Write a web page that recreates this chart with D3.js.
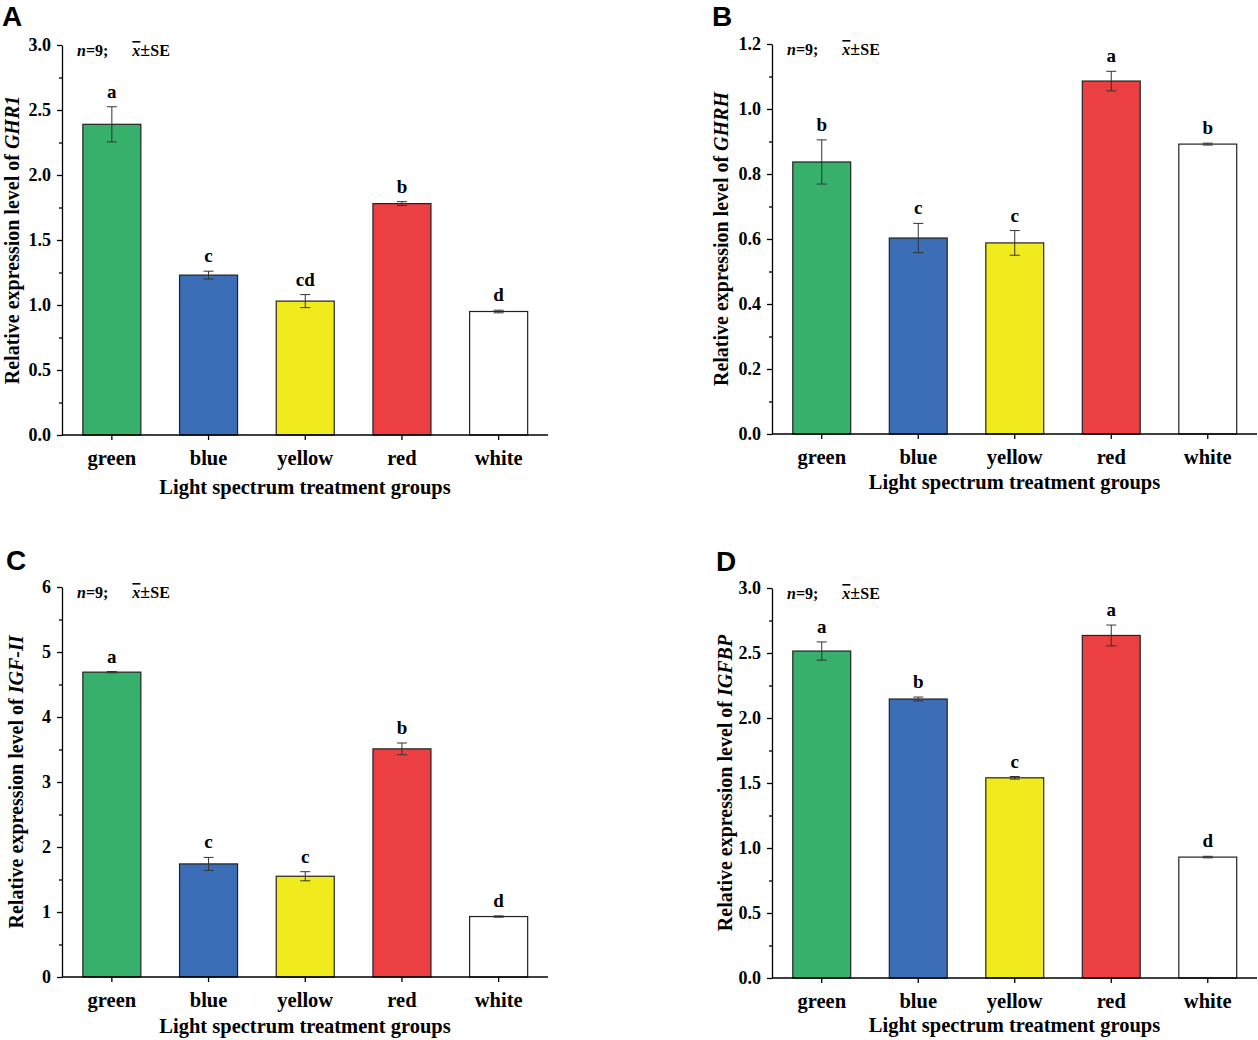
<!DOCTYPE html>
<html lang="en">
<head>
<meta charset="utf-8">
<title>Relative expression by light spectrum</title>
<script src="https://cdnjs.cloudflare.com/ajax/libs/d3/7.8.5/d3.min.js"></script>
<style>
  body { margin: 0; background: #fff; }
  svg text { font-family: "Liberation Serif", "Times New Roman", serif; font-weight: bold; fill: #000; }
  .panel-letter { font-family: "Liberation Sans", Arial, sans-serif !important; }
</style>
</head>
<body>
<div id="chart"></div>
<script>
// categories shared by every panel
var categories = ["green", "blue", "yellow", "red", "white"];
var barColors = ["#37b06b", "#3b6eb6", "#f1ea1c", "#eb3f42", "#ffffff"];

// A: GHR1
var ghr1Mean = [2.39, 1.23, 1.03, 1.78, 0.95];
var ghr1SE = [0.135, 0.03, 0.05, 0.015, 0.01];
var ghr1Letters = ["a", "c", "cd", "b", "d"];
var ghr1Ticks = [0, 0.5, 1.0, 1.5, 2.0, 2.5, 3.0];

// B: GHRH
var ghrhMean = [0.837, 0.603, 0.588, 1.086, 0.892];
var ghrhSE = [0.068, 0.045, 0.038, 0.03, 0.003];
var ghrhLetters = ["b", "c", "c", "a", "b"];
var ghrhTicks = [0, 0.2, 0.4, 0.6, 0.8, 1.0, 1.2];

// C: IGF-II
var igf2Mean = [4.69, 1.74, 1.55, 3.51, 0.93];
var igf2SE = [0.01, 0.1, 0.07, 0.09, 0.01];
var igf2Letters = ["a", "c", "c", "b", "d"];
var igf2Ticks = [0, 1, 2, 3, 4, 5, 6];

// D: IGFBP
var igfbpMean = [2.515, 2.146, 1.54, 2.635, 0.93];
var igfbpSE = [0.07, 0.015, 0.01, 0.08, 0.006];
var igfbpLetters = ["a", "b", "c", "a", "d"];
var igfbpTicks = [0, 0.5, 1.0, 1.5, 2.0, 2.5, 3.0];

var width = 1258, height = 1040;

var svg = d3.select("#chart").append("svg")
    .attr("width", width)
    .attr("height", height);

function drawPanel(p) {
    var x = d3.scaleBand()
        .domain(categories)
        .range([p.left + 1.5, p.right - 1])
        .paddingInner(0.4)
        .paddingOuter(0.2);
    var y = d3.scaleLinear()
        .domain([0, d3.max(p.ticks)])
        .range([p.bottom, p.top]);

    var g = svg.append("g");

    // minor ticks halfway between the major ones
    var step = p.ticks[1] - p.ticks[0];
    var minor = p.ticks.slice(0, -1).map(function(t){ return t + step / 2; });
    g.append("g")
        .attr("transform", "translate(" + p.left + ",0)")
        .call(d3.axisLeft(y).tickValues(minor).tickSize(3).tickFormat(""))
        .call(function(a){ a.select(".domain").remove(); });

    // y axis
    var yAxis = g.append("g")
        .attr("transform", "translate(" + p.left + ",0)")
        .call(d3.axisLeft(y).tickValues(p.ticks).tickSize(5).tickSizeOuter(0).tickPadding(6).tickFormat(p.fmt));
    yAxis.selectAll("text").style("font-size", "18px");

    // bars
    g.selectAll("rect.bar")
        .data(categories)
        .enter().append("rect")
        .attr("class", "bar")
        .attr("x", function(d){ return x(d); })
        .attr("y", function(d, i){ return y(p.mean[i]); })
        .attr("width", x.bandwidth())
        .attr("height", function(d, i){ return y(0) - y(p.mean[i]); })
        .attr("fill", function(d, i){ return barColors[i]; })
        .attr("stroke", "#222")
        .attr("stroke-width", 1.2);

    // error bars
    var cap = 5;
    var err = g.selectAll("g.err")
        .data(categories)
        .enter().append("g")
        .attr("class", "err")
        .attr("stroke", "#333")
        .attr("stroke-width", 1);
    err.append("line")
        .attr("x1", function(d){ return x(d) + x.bandwidth() / 2; })
        .attr("x2", function(d){ return x(d) + x.bandwidth() / 2; })
        .attr("y1", function(d, i){ return y(p.mean[i] - p.se[i]); })
        .attr("y2", function(d, i){ return y(p.mean[i] + p.se[i]); });
    [1, -1].forEach(function(s){
        err.append("line")
            .attr("x1", function(d){ return x(d) + x.bandwidth() / 2 - cap; })
            .attr("x2", function(d){ return x(d) + x.bandwidth() / 2 + cap; })
            .attr("y1", function(d, i){ return y(p.mean[i] + s * p.se[i]); })
            .attr("y2", function(d, i){ return y(p.mean[i] + s * p.se[i]); });
    });

    // significance letters
    g.selectAll("text.sig")
        .data(categories)
        .enter().append("text")
        .attr("class", "sig")
        .attr("x", function(d){ return x(d) + x.bandwidth() / 2; })
        .attr("y", function(d, i){ return y(p.mean[i] + p.se[i]) - 9; })
        .attr("text-anchor", "middle")
        .style("font-size", "19px")
        .text(function(d, i){ return p.letters[i]; });

    // x axis
    var xAxis = g.append("g")
        .attr("transform", "translate(0," + p.bottom + ")")
        .call(d3.axisBottom(x).tickSize(5).tickSizeOuter(0).tickPadding(10));
    xAxis.select(".domain").attr("d", "M" + p.left + ",0H" + p.right);
    xAxis.selectAll("text").style("font-size", "20.5px");
    g.selectAll(".domain, .tick line").attr("stroke", "#000").attr("stroke-width", 1.3);

    // x title
    g.append("text")
        .attr("x", (p.left + p.right) / 2)
        .attr("y", p.xTitleY)
        .attr("text-anchor", "middle")
        .style("font-size", "20.5px")
        .text("Light spectrum treatment groups");

    // y title
    var yt = g.append("text")
        .attr("transform", "translate(" + p.yTitleX + "," + ((p.top + p.bottom) / 2) + ") rotate(-90)")
        .attr("text-anchor", "middle")
        .style("font-size", "20px");
    yt.append("tspan").text("Relative expression level of ");
    yt.append("tspan").style("font-style", "italic").text(p.gene);

    // n and mean±SE note
    var note = g.append("text")
        .attr("x", p.left + 15)
        .attr("y", p.top + 11)
        .style("font-size", "16px");
    note.append("tspan").style("font-style", "italic").text("n");
    note.append("tspan").text("=9;\u2003\u2002");
    note.append("tspan").style("font-style", "italic").style("text-decoration", "overline").text("x");
    note.append("tspan").style("font-size", "18px").text("\u00b1");
    note.append("tspan").text("SE");

    // panel letter
    svg.append("text")
        .attr("class", "panel-letter")
        .attr("x", p.letterX)
        .attr("y", p.letterY)
        .style("font-size", "28px")
        .text(p.name);
}

drawPanel({name: "A", gene: "GHR1", mean: ghr1Mean, se: ghr1SE, letters: ghr1Letters, ticks: ghr1Ticks,
    fmt: d3.format(".1f"), left: 62, right: 548, top: 45, bottom: 435,
    xTitleY: 494, yTitleX: 19, letterX: 2, letterY: 26});
drawPanel({name: "B", gene: "GHRH", mean: ghrhMean, se: ghrhSE, letters: ghrhLetters, ticks: ghrhTicks,
    fmt: d3.format(".1f"), left: 772, right: 1257, top: 44, bottom: 434,
    xTitleY: 489, yTitleX: 728, letterX: 712, letterY: 26});
drawPanel({name: "C", gene: "IGF-II", mean: igf2Mean, se: igf2SE, letters: igf2Letters, ticks: igf2Ticks,
    fmt: d3.format("d"), left: 62, right: 548, top: 587, bottom: 977,
    xTitleY: 1033, yTitleX: 23, letterX: 6, letterY: 570});
drawPanel({name: "D", gene: "IGFBP", mean: igfbpMean, se: igfbpSE, letters: igfbpLetters, ticks: igfbpTicks,
    fmt: d3.format(".1f"), left: 772, right: 1257, top: 588, bottom: 978,
    xTitleY: 1032, yTitleX: 732, letterX: 716, letterY: 571});
</script>
</body>
</html>
